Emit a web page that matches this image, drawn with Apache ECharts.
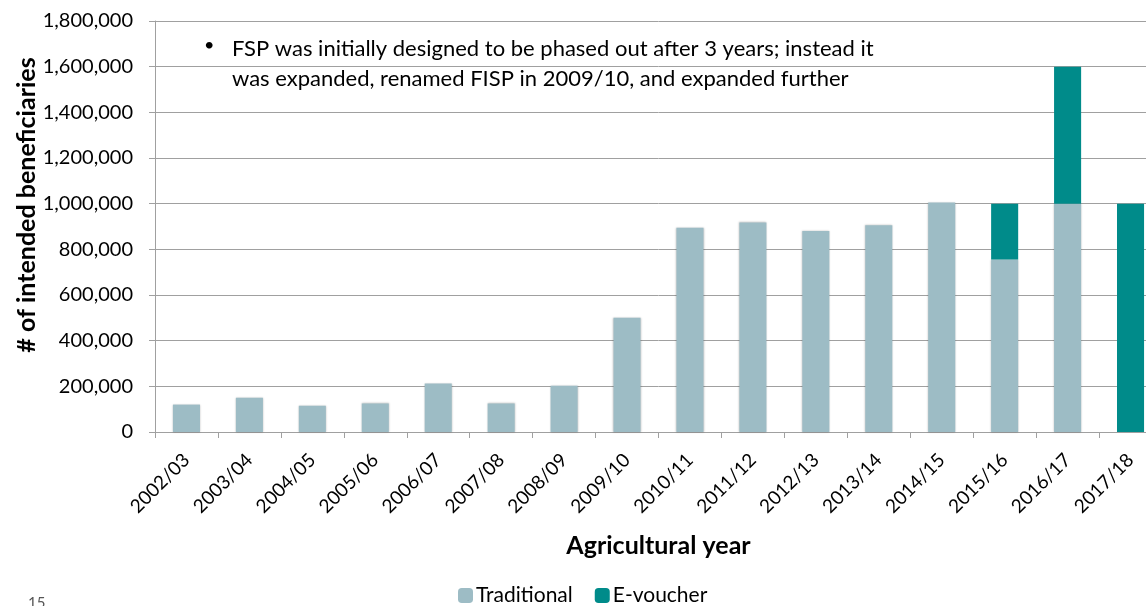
<!DOCTYPE html>
<html>
<head>
<meta charset="utf-8">
<script src="https://cdn.jsdelivr.net/npm/echarts@6/dist/echarts.min.js"></script>
<style>
  html, body { margin: 0; padding: 0; background: #fff; overflow: hidden; }
  /* a little wider than the window: the last category is cut off like on the slide */
  #chart { width: 1162px; height: 606px; }
</style>
</head>
<body>
<div id="chart"></div>
<script>
var years = ['2002/03', '2003/04', '2004/05', '2005/06', '2006/07', '2007/08', '2008/09', '2009/10',
  '2010/11', '2011/12', '2012/13', '2013/14', '2014/15', '2015/16', '2016/17', '2017/18']
var traditional = [120000, 150000, 115000, 125000, 212000, 125000, 203000, 500000,
  895000, 918000, 880000, 905000, 1005000, 755000, 1000000, 0]
var eVoucher = [0, 0, 0, 0, 0, 0, 0, 0,
  0, 0, 0, 0, 0, 245000, 600000, 1000000]
var yMax = 1800000
var yStep = 200000

var font = 'Lato'
var myChart = echarts.init(document.getElementById('chart'))

// comma separated numbers like 1,800,000
function withCommas(v) {
  return String(v).replace(/\B(?=(\d{3})+(?!\d))/g, ',')
}

var option = {
  animation: false,
  textStyle: { fontFamily: font, color: '#000' },
  grid: { left: 155, top: 21, right: 0, bottom: 174, containLabel: false },
  legend: {
    top: 580,
    left: 453,
    itemWidth: 15,
    itemHeight: 15,
    itemGap: 22,
    textStyle: { fontFamily: font, fontSize: 21, color: '#000', padding: [0, 0, 0, -2] },
    data: ['Traditional', 'E-voucher']
  },
  xAxis: {
    type: 'category',
    data: years,
    name: 'Agricultural year',
    nameLocation: 'middle',
    nameGap: 101,
    nameTextStyle: { fontFamily: font, fontSize: 25, fontWeight: 'bold', color: '#000' },
    axisLine: { lineStyle: { color: '#a0a0a0', width: 1 } },
    axisTick: { show: true, length: 6, lineStyle: { color: '#a0a0a0' } },
    axisLabel: { rotate: 45, fontSize: 19, margin: 25, color: '#000', interval: 0 }
  },
  yAxis: {
    type: 'value',
    min: 0,
    max: yMax,
    interval: yStep,
    axisLine: { show: true, lineStyle: { color: '#a0a0a0', width: 1 } },
    axisTick: { show: true, length: 6, lineStyle: { color: '#a0a0a0' } },
    axisLabel: { fontSize: 20, margin: 22, color: '#000', formatter: withCommas },
    splitLine: { lineStyle: { color: '#a0a0a0', width: 1 } }
  },
  series: [{
    name: 'Traditional',
    type: 'bar',
    stack: 'total',
    data: traditional,
    barWidth: '43%',
    itemStyle: { color: '#9dbcc5', shadowBlur: 2, shadowColor: 'rgba(0,0,0,0.25)' }
  }, {
    name: 'E-voucher',
    type: 'bar',
    stack: 'total',
    data: eVoucher,
    barWidth: '43%',
    itemStyle: { color: '#008b8a' }
  }],
  graphic: [{
    // y axis title, sits a bit above the plot middle
    type: 'text',
    x: 27,
    y: 205,
    rotation: Math.PI / 2,
    style: {
      text: '# of intended beneficiaries',
      font: 'bold 25px ' + font,
      fill: '#000',
      align: 'center',
      verticalAlign: 'middle'
    }
  }, {
    type: 'text',
    left: 204,
    top: 36,
    style: { text: '•', font: '18px ' + font, fill: '#000' }
  }, {
    type: 'text',
    left: 232,
    top: 34,
    style: {
      text: 'FSP was initially designed to be phased out after 3 years; instead it\nwas expanded, renamed FISP in 2009/10, and expanded further',
      font: '22px ' + font,
      lineHeight: 30,
      fill: '#000'
    }
  }, {
    type: 'text',
    left: 28,
    top: 596,
    style: { text: '15', font: '15px ' + font, fill: '#555' }
  }]
}

myChart.setOption(option)
</script>
</body>
</html>
